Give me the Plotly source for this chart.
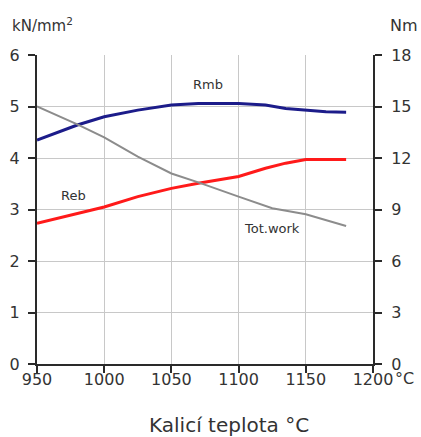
import plotly.graph_objects as go

temp = [950, 980, 1000, 1025, 1050, 1070, 1100, 1120, 1135, 1150, 1165, 1180]
rmb = [4.35, 4.64, 4.80, 4.93, 5.03, 5.06, 5.06, 5.03, 4.96, 4.93, 4.90, 4.89]
reb = [2.73, 2.93, 3.05, 3.25, 3.41, 3.51, 3.64, 3.80, 3.90, 3.97, 3.97, 3.97]
totwork_temp = [950, 980, 1000, 1025, 1050, 1070, 1100, 1125, 1150, 1180]
totwork = [15.0, 13.96, 13.2, 12.08, 11.1, 10.58, 9.75, 9.07, 8.72, 8.04]

x_ticks = [950, 1000, 1050, 1100, 1150, 1200]
x_ticktext = ["950", "1000", "1050", "1100", "1150", "1200"]
y_left_ticks = [0, 1, 2, 3, 4, 5, 6]
y_right_ticks = [0, 3, 6, 9, 12, 15, 18]

font = "DejaVu Sans, sans-serif"
txt = "#333333"
axis_col = "#2a2a2a"

fig = go.Figure()
fig.add_trace(go.Scatter(x=temp, y=rmb, mode="lines", line=dict(color="#1c1c8a", width=3), name="Rmb"))
fig.add_trace(go.Scatter(x=temp, y=reb, mode="lines", line=dict(color="#ff1a1a", width=3), name="Reb"))
fig.add_trace(go.Scatter(x=totwork_temp, y=totwork, mode="lines", line=dict(color="#8c8c8c", width=2),
                         name="Tot.work", yaxis="y2"))

common = dict(showline=True, linecolor=axis_col, linewidth=2, automargin=False,
              ticks="outside", ticklen=7, tickcolor=axis_col, tickwidth=2,
              zeroline=False, tickfont=dict(size=16, color=txt))

fig.update_layout(
    width=421, height=437,
    margin=dict(l=37, r=48, t=55, b=73),
    paper_bgcolor="white", plot_bgcolor="white",
    showlegend=False,
    font=dict(family=font, size=15, color=txt),
    xaxis=dict(range=[950, 1200], tickvals=x_ticks, ticktext=x_ticktext, ticklabelstandoff=-7,
               showgrid=True, gridcolor="#c8c8c8", gridwidth=1, **common),
    yaxis=dict(range=[0, 6], tickvals=y_left_ticks, ticklabelstandoff=5,
               showgrid=True, gridcolor="#c8c8c8", gridwidth=1, **common),
    yaxis2=dict(range=[0, 18], tickvals=y_right_ticks, overlaying="y", side="right",
                ticklabelstandoff=6, showgrid=False, **common),
)

annos = [
    dict(text="Rmb", x=1077, y=5.42, xref="x", yref="y", showarrow=False, font=dict(size=13, color=txt)),
    dict(text="Reb", x=977, y=3.28, xref="x", yref="y", showarrow=False, font=dict(size=13, color=txt)),
    dict(text="Tot.work", x=1125, y=2.64, xref="x", yref="y", showarrow=False, font=dict(size=13, color=txt)),
    dict(text="kN/mm<sup>2</sup>", x=0, y=1, xref="paper", yref="paper", showarrow=False,
         xanchor="left", yanchor="middle", xshift=-27, yshift=30, font=dict(size=15, color=txt)),
    dict(text="Nm", x=1, y=1, xref="paper", yref="paper", showarrow=False,
         xanchor="left", yanchor="middle", xshift=15, yshift=30, font=dict(size=16, color=txt)),
    dict(text="°C", x=1200, y=0, xref="x", yref="paper", showarrow=False, xanchor="left",
         yanchor="middle", xshift=20, yshift=-14, font=dict(size=16, color=txt)),
    dict(text="Kalicí teplota °C", x=1093, y=0, xref="x", yref="paper", showarrow=False,
         yanchor="middle", yshift=-61, font=dict(size=20, color=txt)),
]
fig.update_layout(annotations=annos)

fig.write_html("out.html", config={"displayModeBar": False},
               post_script="document.body.style.margin='0';")
